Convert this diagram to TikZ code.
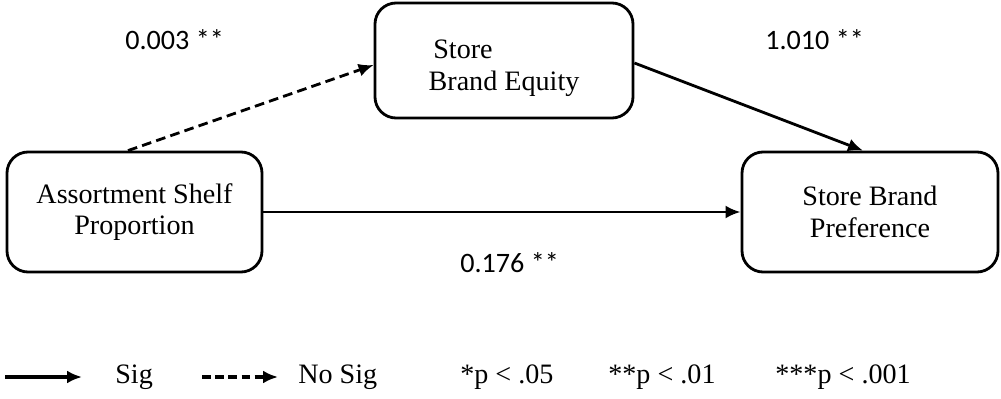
\documentclass[tikz,border=0pt]{standalone}
\usepackage{fontspec}
\setmainfont{Liberation Serif}
\newfontfamily\numfont{Carlito}
\usetikzlibrary{arrows.meta}
\tikzset{
  varbox/.style={draw, line width=1.6pt, rounded corners=12pt, align=center,
    font=\fontsize{16}{18}\selectfont},
  coef/.style={anchor=base west, inner xsep=0pt, font=\numfont\fontsize{16}{18}\selectfont},
  legtext/.style={anchor=base west, inner xsep=0pt, font=\fontsize{16}{18}\selectfont},
  path/.style={line width=1.6pt, -{Latex[length=3mm,width=2.6mm]}},
}
\begin{document}
\begin{tikzpicture}
            \useasboundingbox (0,0) rectangle (20.02,7.96);
            % variables
            \node[varbox, minimum width=5.1cm, minimum height=2.4cm] (asp) at (2.69,3.72) {Assortment Shelf\\Proportion};
            \node[varbox, minimum width=5.16cm, minimum height=2.3cm] (sbe) at (10.08,6.75) {};
            \node[align=left, font=\fontsize{16}{18}\selectfont] (sbetext) at (10.08,6.6) {\,Store\\Brand Equity};
            \node[varbox, minimum width=5.12cm, minimum height=2.4cm] (sbp) at (17.40,3.72) {Store Brand\\Preference};
            % paths
            \draw [path, dash pattern=on 5.5pt off 3pt] ([xshift=-0.13cm]asp.north) -- ([yshift=-0.09cm]sbe.west);
            \draw [path] ([yshift=-0.05cm]sbe.east) -- ([xshift=-0.14cm]sbp.north);
            \draw [path] (asp.east) -- (sbp.west);
            \node[coef] (c1) at (2.5,6.96) {0.003 **};
            \node[coef] (c2) at (15.3,6.96) {1.010 **};
            \node[coef] (c3) at (9.2,2.52) {0.176 **};
            % legend
            \coordinate (s1) at (0.1,0.42);
            \coordinate (s2) at (1.64,0.42);
            \coordinate (n1) at (4.04,0.42);
            \coordinate (n2) at (5.56,0.42);
            \draw [path, line width=2pt] (s1) -- (s2);
            \draw [path, line width=2pt, dash pattern=on 5pt off 2.5pt] (n1) -- (n2);
            \node[legtext] (sig) at (2.3,0.3) {Sig};
            \node[legtext] (nosig) at (5.96,0.3) {No Sig};
            \node[legtext] (p1) at (9.2,0.3) {*p < .05};
            \node[legtext] (p2) at (12.16,0.3) {**p < .01};
            \node[legtext] (p3) at (15.5,0.3) {***p < .001};
        \end{tikzpicture}
\end{document}
